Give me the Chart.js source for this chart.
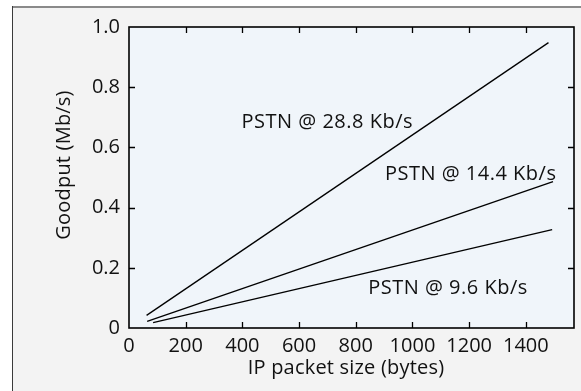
<!DOCTYPE html>
<html>
<head>
<meta charset="utf-8">
<script src="https://cdn.jsdelivr.net/npm/chart.js@4/dist/chart.umd.min.js"></script>
<style>
  html, body { margin: 0; padding: 0; background: #ffffff; }
  #wrap { position: relative; width: 581px; height: 391px; }
</style>
</head>
<body>
<div id="wrap"><canvas id="c" width="581" height="391"></canvas></div>
<script>
// ---- data ----
const seriesNames = ["PSTN @ 28.8 Kb/s", "PSTN @ 14.4 Kb/s", "PSTN @ 9.6 Kb/s"];
const packetSize288 = [62, 1480];
const goodput288 = [0.042, 0.948];
const packetSize144 = [64, 1496];
const goodput144 = [0.022, 0.486];
const packetSize96 = [85, 1493];
const goodput96 = [0.018, 0.327];
const xTickValues = [0, 200, 400, 600, 800, 1000, 1200, 1400];
const yTickValues = [0, 0.2, 0.4, 0.6, 0.8, 1.0];
const xTitle = "IP packet size (bytes)";
const yTitle = "Goodput (Mb/s)";

const FONT = "'Open Sans', 'DejaVu Sans', sans-serif";
const toPts = (xs, ys) => xs.map((x, i) => ({ x: x, y: ys[i] }));

// label anchor positions in data units (left edge, baseline)
const labelAnchors = [
  { text: seriesNames[0], x: 397, y: 0.666 },
  { text: seriesNames[1], x: 903, y: 0.491 },
  { text: seriesNames[2], x: 844, y: 0.114 }
];

function plotBox(chart) {
  const xs = chart.scales.x, ys = chart.scales.y;
  const l = xs.getPixelForValue(xs.min), r = xs.getPixelForValue(xs.max);
  const t = ys.getPixelForValue(ys.max), b = ys.getPixelForValue(ys.min);
  return { left: l, right: r, top: t, bottom: b };
}

const decor = {
  id: 'decor',
  beforeDraw(chart) {
    const ctx = chart.ctx, a = plotBox(chart);
    ctx.save();
    ctx.fillStyle = '#ffffff';
    ctx.fillRect(0, 0, chart.width, chart.height);
    ctx.fillStyle = '#f3f3f3';
    ctx.fillRect(12, 6, chart.width - 12, chart.height - 6);
    ctx.fillStyle = '#8a8a8a';
    ctx.fillRect(12, 6, chart.width - 12, 2);
    ctx.fillStyle = '#3a3a3a';
    ctx.fillRect(12, 6, 1, chart.height - 6);
    ctx.fillStyle = '#f0f5fa';
    ctx.fillRect(a.left, a.top, a.right - a.left, a.bottom - a.top);
    ctx.restore();
  },
  afterDraw(chart) {
    const ctx = chart.ctx, a = plotBox(chart);
    const xs = chart.scales.x, ys = chart.scales.y;
    ctx.save();
    // inward ticks on all four sides
    ctx.strokeStyle = '#000';
    ctx.lineWidth = 1.3;
    ctx.beginPath();
    xTickValues.forEach(v => {
      if (v === 0) return;
      const px = Math.round(xs.getPixelForValue(v)) + 0.5;
      ctx.moveTo(px, a.bottom); ctx.lineTo(px, a.bottom - 6);
      ctx.moveTo(px, a.top); ctx.lineTo(px, a.top + 6);
    });
    yTickValues.forEach(v => {
      if (v === 0 || v === 1.0) return;
      const py = Math.round(ys.getPixelForValue(v)) + 0.5;
      ctx.moveTo(a.left, py); ctx.lineTo(a.left + 6, py);
      ctx.moveTo(a.right, py); ctx.lineTo(a.right - 6, py);
    });
    ctx.stroke();
    // frame
    ctx.lineWidth = 1.6;
    ctx.strokeRect(a.left, a.top, a.right - a.left, a.bottom - a.top);
    // series labels
    ctx.fillStyle = '#111';
    ctx.font = '20px ' + FONT;
    ctx.textAlign = 'left';
    ctx.textBaseline = 'alphabetic';
    ctx.letterSpacing = '0.5px';
    labelAnchors.forEach(l => {
      ctx.fillText(l.text, xs.getPixelForValue(l.x), ys.getPixelForValue(l.y));
    });
    // axis titles
    ctx.letterSpacing = '0.2px';
    ctx.textAlign = 'center';
    ctx.fillText(xTitle, 346, 373.5);
    ctx.translate(69.5, 165);
    ctx.rotate(-Math.PI / 2);
    ctx.fillText(yTitle, 0, 0);
    ctx.restore();
  }
};

const lineStyle = { borderColor: '#000', borderWidth: 1.3, pointRadius: 0, fill: false, tension: 0 };

new Chart(document.getElementById('c'), {
  type: 'scatter',
  data: {
    datasets: [
      Object.assign({ label: seriesNames[0], data: toPts(packetSize288, goodput288), showLine: true }, lineStyle),
      Object.assign({ label: seriesNames[1], data: toPts(packetSize144, goodput144), showLine: true }, lineStyle),
      Object.assign({ label: seriesNames[2], data: toPts(packetSize96, goodput96), showLine: true }, lineStyle)
    ]
  },
  options: {
    responsive: false,
    animation: false,
    devicePixelRatio: 1,
    layout: { padding: { left: 0, top: 27, right: 7, bottom: 0 } },
    plugins: { legend: { display: false }, tooltip: { enabled: false } },
    scales: {
      x: {
        type: 'linear', min: 0, max: 1570,
        afterBuildTicks: s => { s.ticks = xTickValues.map(v => ({ value: v })); },
        afterFit: s => { s.height = 63; },
        grid: { display: false, drawTicks: false },
        border: { display: false },
        ticks: { color: '#111', font: { family: FONT, size: 20 }, padding: 6, maxRotation: 0, autoSkip: false,
                 callback: v => String(v) }
      },
      y: {
        type: 'linear', min: 0, max: 1.0,
        afterBuildTicks: s => { s.ticks = yTickValues.map(v => ({ value: v })); },
        afterFit: s => { s.width = 129; },
        grid: { display: false, drawTicks: false },
        border: { display: false },
        ticks: { color: '#111', font: { family: FONT, size: 20 }, padding: 9,
                 callback: v => (v === 0 ? '0' : Number(v).toFixed(1)) }
      }
    }
  },
  plugins: [decor]
});
</script>
</body>
</html>
